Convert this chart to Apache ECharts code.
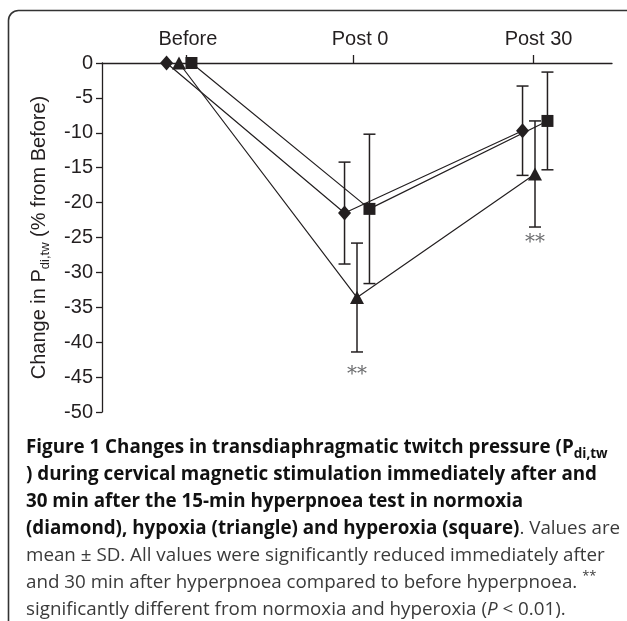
<!DOCTYPE html>
<html>
<head>
<meta charset="utf-8">
<script src="https://cdn.jsdelivr.net/npm/echarts@6/dist/echarts.min.js"></script>
<style>html,body{margin:0;padding:0;background:#fff;}#c{width:627px;height:621px;}</style>
</head>
<body>
<div id="c"></div>
<script>
// ---- data ----
const categories = ['Before', 'Post 0', 'Post 30'];
const normoxia = [0, -21.5, -9.7];
const normoxiaSD = [0, 7.3, 6.4];
const hypoxia = [0, -33.6, -15.9];
const hypoxiaSD = [0, 7.8, 7.6];
const hyperoxia = [0, -20.9, -8.3];
const hyperoxiaSD = [0, 10.7, 7.0];
const sigCategory = [1, 2];
const sigValue = [-44.7, -25.8];
const sigText = ['**', '**'];
const yMin = -50, yMax = 0, yStep = 5;

// ---- layout constants ----
const OFF = 0.07;
const groups = [
  {name: 'normoxia', vals: normoxia, sd: normoxiaSD, off: -OFF, symbol: 'diamond', size: [13, 15]},
  {name: 'hypoxia', vals: hypoxia, sd: hypoxiaSD, off: 0, symbol: 'triangle', size: [14, 13]},
  {name: 'hyperoxia', vals: hyperoxia, sd: hyperoxiaSD, off: OFF, symbol: 'rect', size: [12, 12]}
];
const INK = '#231f20';
const tickPos = [0.04, 0.98, 1.99];
const labelPos = [0.05, 1.017, 2.02];

const series = [];
groups.forEach(g => {
  series.push({
    type: 'line', name: g.name, xAxisIndex: 0, yAxisIndex: 0,
    data: g.vals.map((v, i) => [i + g.off, v]),
    symbol: g.symbol, symbolSize: g.size, showAllSymbol: true,
    lineStyle: {color: INK, width: 1.2},
    itemStyle: {color: INK, borderWidth: 0},
    z: 3, animation: false
  });
  series.push({
    type: 'custom', xAxisIndex: 0, yAxisIndex: 0,
    data: g.vals.map((v, i) => [i + g.off, v - g.sd[i], v + g.sd[i]]).filter((d, i) => g.sd[i] > 0),
    renderItem: function (params, api) {
      const lo = api.coord([api.value(0), api.value(1)]);
      const hi = api.coord([api.value(0), api.value(2)]);
      const w = 6;
      const st = {stroke: INK, lineWidth: 1.5};
      return {type: 'group', children: [
        {type: 'line', shape: {x1: lo[0], y1: lo[1], x2: hi[0], y2: hi[1]}, style: st},
        {type: 'line', shape: {x1: lo[0] - w, y1: lo[1], x2: lo[0] + w, y2: lo[1]}, style: st},
        {type: 'line', shape: {x1: hi[0] - w, y1: hi[1], x2: hi[0] + w, y2: hi[1]}, style: st}
      ]};
    },
    z: 2, animation: false, silent: true
  });
});
series.push({
  type: 'custom', xAxisIndex: 0, yAxisIndex: 0,
  data: sigCategory.map((c, i) => [c, sigValue[i], i]),
  renderItem: function (params, api) {
    const p = api.coord([api.value(0), api.value(1)]);
    return {type: 'text', x: p[0], y: p[1], style: {
      text: sigText[api.value(2)], align: 'center', verticalAlign: 'middle',
      font: '20px "DejaVu Serif"', fill: '#6d6e70'
    }};
  },
  z: 4, animation: false, silent: true
});

const FS = 18.8;
const capB = {fontFamily: 'Open Sans', fontWeight: 'bold', fontSize: FS, lineHeight: 27, fill: '#111', verticalAlign: 'middle'};
const capR = {fontFamily: 'Open Sans', fontWeight: 'normal', fontSize: FS, lineHeight: 27, fill: '#3a3a3a', verticalAlign: 'middle'};
const captionText = [
  '{b|Figure 1 Changes in transdiaphragmatic twitch pressure (P}{bs|di,tw}',
  '{b|) during cervical magnetic stimulation immediately after and}',
  '{b|30 min after the 15-min hyperpnoea test in normoxia}',
  '{b|(diamond), hypoxia (triangle) and hyperoxia (square)}{r|. Values are}',
  '{r|mean \u00b1 SD. All values were significantly reduced immediately after}',
  '{r|and 30 min after hyperpnoea compared to before hyperpnoea. }{sup|**}',
  '{r|significantly different from normoxia and hyperoxia (}{ri|P}{r| < 0.01).}'
].join('\n');

const chart = echarts.init(document.getElementById('c'), null, {renderer: 'canvas'});
chart.setOption({
  animation: false,
  backgroundColor: '#fff',
  grid: {left: 102, top: 63, width: 510, height: 349, containLabel: false},
  xAxis: [{
    type: 'value', position: 'top', min: 1 - 255 / 178, max: 1 + 255 / 178,
    axisLine: {show: true, lineStyle: {color: INK, width: 1.3}, onZero: false},
    axisTick: {show: true, customValues: tickPos, length: 8, lineStyle: {color: INK, width: 1.3}},
    axisLabel: {show: true, customValues: labelPos, margin: 14, color: INK, fontSize: 20, fontFamily: 'Liberation Sans',
      formatter: v => categories[Math.round(v)]},
    splitLine: {show: false}
  }],
  yAxis: [{
    type: 'value', min: yMin, max: yMax, interval: yStep,
    axisLine: {show: true, lineStyle: {color: INK, width: 1.3}, onZero: false},
    axisTick: {show: true, length: 6, lineStyle: {color: INK, width: 1.3}},
    axisLabel: {color: INK, fontSize: 20, fontFamily: 'Liberation Sans', margin: 9},
    splitLine: {show: false},
    name: '{a|Change in P}{s|di,tw}{a| (% from Before)}',
    nameLocation: 'middle', nameRotate: 90, nameGap: 50,
    nameTextStyle: {
      rich: {
        a: {fontSize: 20, fontFamily: 'Liberation Sans', color: INK, lineHeight: 26, verticalAlign: 'middle'},
        s: {fontSize: 13, fontFamily: 'Liberation Sans', color: INK, lineHeight: 13, verticalAlign: 'bottom'}
      }
    }
  }],
  series: series,
  graphic: [
    {type: 'rect', shape: {x: 8.5, y: 10.5, width: 800, height: 800, r: 10},
      style: {fill: 'none', stroke: '#333', lineWidth: 1.6}, silent: true, z: 0},
    {type: 'text', x: 26, y: 434.5, style: {
      text: captionText, verticalAlign: 'top', align: 'left',
      rich: {
        b: capB,
        bs: Object.assign({}, capB, {fontSize: 13.5, lineHeight: 13, verticalAlign: 'bottom'}),
        r: capR,
        ri: Object.assign({}, capR, {fontStyle: 'italic'}),
        sup: Object.assign({}, capR, {fontSize: 13, lineHeight: 24, verticalAlign: 'top'})
      }
    }, silent: true, z: 10}
  ]
});
</script>
</body>
</html>
